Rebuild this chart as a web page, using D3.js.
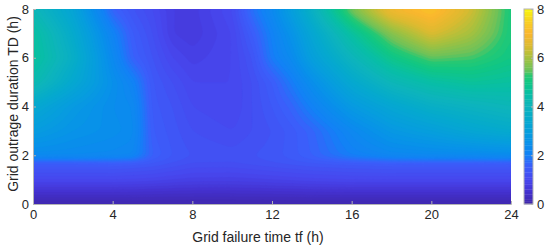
<!DOCTYPE html>
<html>
<head>
<meta charset="utf-8">
<script src="https://cdn.jsdelivr.net/npm/d3@7"></script>
<style>
  body { margin: 0; background: #fff; }
  text { font-family: "Liberation Sans", Arial, sans-serif; fill: #262626; }
</style>
</head>
<body>
<svg id="chart" width="550" height="248"></svg>
<script>
// grid failure time tf (h), columns of the read grid
var tfValues = [0, 2, 4, 5, 6, 7, 8, 10, 11, 12, 13, 14, 16, 18, 20, 22, 24];
// grid outage duration TD (h), rows of the read grid
var tdValues = [0, 0.5, 1, 1.7, 1.95, 3, 4, 5, 6, 7, 8];

// values, one row per TD value
var zTD0    = [0.05,0.05,0.05,0.05,0.05,0.05,0.05,0.05,0.05,0.05,0.05,0.05,0.05,0.05,0.05,0.05,0.05];
var zTD0_5  = [0.5, 0.5, 0.5, 0.5, 0.48,0.46,0.45,0.45,0.46,0.47,0.48,0.5, 0.5, 0.5, 0.5, 0.5, 0.5];
var zTD1    = [1.0, 1.0, 1.0, 0.98,0.95,0.9, 0.86,0.85,0.87,0.9, 0.93,0.96,1.0, 1.0, 1.0, 1.0, 1.0];
var zTD1_7  = [1.5, 1.5, 1.5, 1.45,1.4, 1.3, 1.2, 1.2, 1.25,1.3, 1.35,1.4, 1.45,1.5, 1.5, 1.5, 1.5];
var zTD1_95 = [2.3, 2.3, 2.25,2.2, 1.6, 1.4, 1.3, 1.25,1.3, 1.35,1.45,1.6, 2.0, 2.2, 2.25,2.25,2.3];
var zTD3    = [2.9, 2.6, 2.45,2.35,1.5, 1.35,1.2, 1.1, 1.2, 1.3, 1.45,1.65,2.25,2.75,3.0, 3.3, 3.5];
var zTD4    = [3.4, 2.8, 2.4, 2.3, 1.45,1.3, 1.1, 1.0, 1.2, 1.4, 1.65,2.05,2.8, 3.3, 3.7, 3.9, 4.1];
var zTD5    = [4.3, 3.4, 2.5, 2.1, 1.4, 1.2, 1.0, 1.0, 1.2, 1.5, 1.95,2.45,3.4, 4.1, 4.5, 4.7, 4.6];
var zTD6    = [4.7, 3.7, 2.3, 1.6, 1.3, 1.0, 0.85,1.0, 1.3, 1.95,2.35,3.0, 4.0, 4.9, 5.45,5.35,5.0];
var zTD7    = [4.6, 3.5, 2.1, 1.5, 1.2, 0.8, 0.72,1.0, 1.5, 2.05,2.6, 3.3, 4.6, 5.7, 6.5, 6.0, 5.1];
var zTD8    = [4.1, 3.2, 1.6, 1.3, 1.1, 0.8, 0.75,1.1, 1.8, 2.3, 3.0, 3.8, 5.6, 6.9, 7.3, 6.4, 5.1];
var zRows = [zTD0, zTD0_5, zTD1, zTD1_7, zTD1_95, zTD3, zTD4, zTD5, zTD6, zTD7, zTD8];

var xTicks = [0, 4, 8, 12, 16, 20, 24];
var yTicks = [0, 2, 4, 6, 8];
var cbTicks = [0, 2, 4, 6, 8];

// parula-like colour map as seen on the colour bar
var cmapValues = [0, 0.5, 1, 1.6, 2, 2.5, 3, 3.5, 4, 4.5, 5, 5.25, 5.5, 6, 6.5, 7, 7.5, 8];
var cmapColors = ["#3e26a8","#4431cf","#4747ee","#3a60fb","#1380f6","#0890ea","#069fdb","#05aacc",
                  "#0db4bc","#08bea6","#10c784","#25c874","#6cc25a","#a6c13e","#dcba30","#fab72e","#f8cf22","#f8f60e"];

var svg = d3.select('#chart');
var x0 = 33, x1 = 511, y0 = 9, y1 = 204;

var x = d3.scaleLinear().domain([0, 24]).range([x0, x1]);
var y = d3.scaleLinear().domain([0, 8]).range([y1, y0]);
var color = d3.scaleLinear().domain(cmapValues).range(cmapColors).clamp(true);

// bilinear lookup in the read grid (rendering only)
function lookup(tf, td) {
	var i = d3.bisectRight(tfValues, tf) - 1;
	i = Math.max(0, Math.min(tfValues.length - 2, i));
	var j = d3.bisectRight(tdValues, td) - 1;
	j = Math.max(0, Math.min(tdValues.length - 2, j));
	var u = (tf - tfValues[i]) / (tfValues[i+1] - tfValues[i]);
	var v = (td - tdValues[j]) / (tdValues[j+1] - tdValues[j]);
	var a = zRows[j][i], b = zRows[j][i+1], c = zRows[j+1][i], d = zRows[j+1][i+1];
	return (a*(1-u) + b*u)*(1-v) + (c*(1-u) + d*u)*v;
}

var nx = 239, ny = 98;
var grid = new Float64Array(nx * ny);
for (var r = 0; r < ny; r++) {
	var td = 8 - 8 * (r + 0.5) / ny;
	for (var c = 0; c < nx; c++) {
		grid[r*nx + c] = lookup(24 * (c + 0.5) / nx, td);
	}
}
d3.blur2({data: grid, width: nx, height: ny}, 1);

var step = 0.1;
var thresholds = d3.range(0, 8 + 1e-9, step);
var contours = d3.contours().size([nx, ny]).thresholds(thresholds)(grid);

var proj = d3.geoTransform({
	point: function(px, py) {
		this.stream.point(x0 + px * (x1 - x0) / nx, y0 + py * (y1 - y0) / ny);
	}
});
var path = d3.geoPath(proj);

svg.append('clipPath').attr('id', 'plotClip')
	.append('rect').attr('x', x0).attr('y', y0).attr('width', x1 - x0).attr('height', y1 - y0);

svg.append('g').attr('clip-path', 'url(#plotClip)')
	.selectAll('path').data(contours).enter().append('path')
	.attr('d', path)
	.attr('fill', function(d){ return color(d.value + step/2); })
	.attr('stroke', function(d){ return color(d.value + step/2); })
	.attr('stroke-width', 0.4);

// axes
var xAxis = svg.append('g').attr('transform', 'translate(0,' + y1 + ')')
	.call(d3.axisBottom(x).tickValues(xTicks).tickSize(-3).tickPadding(6));
var yAxis = svg.append('g').attr('transform', 'translate(' + x0 + ',0)')
	.call(d3.axisLeft(y).tickValues(yTicks).tickSize(-3).tickPadding(4));
[xAxis, yAxis].forEach(function(a){
	a.select('.domain').attr('stroke', '#b4b4b4');
	a.selectAll('.tick line').attr('stroke', '#b4b4b4');
	a.selectAll('.tick text').style('font-size', '13px').attr('fill', '#262626');
});

svg.append('text').attr('x', 258).attr('y', 242)
	.attr('text-anchor', 'middle').style('font-size', '14px')
	.text('Grid failure time tf (h)');
svg.append('text').attr('transform', 'translate(18,104) rotate(-90)')
	.attr('text-anchor', 'middle').style('font-size', '14px')
	.text('Grid outrage duration TD (h)');

// colour bar
var cbX = 524, cbW = 9;
var cbLevels = d3.range(0, 8, step);
svg.append('g').selectAll('rect').data(cbLevels).enter().append('rect')
	.attr('x', cbX).attr('width', cbW)
	.attr('y', function(d){ return y(d + step); })
	.attr('height', function(d){ return y(d) - y(d + step) + 0.3; })
	.attr('fill', function(d){ return color(d + step/2); });
svg.append('rect').attr('x', cbX).attr('y', y0).attr('width', cbW).attr('height', y1 - y0)
	.attr('fill', 'none').attr('stroke', '#b4b4b4');
var cbAxis = svg.append('g').attr('transform', 'translate(' + (cbX + cbW) + ',0)')
	.call(d3.axisRight(y).tickValues(cbTicks).tickSize(-2).tickPadding(4));
cbAxis.select('.domain').remove();
cbAxis.selectAll('.tick line').attr('stroke', '#b4b4b4');
cbAxis.selectAll('.tick text').style('font-size', '13px').attr('fill', '#262626');
</script>
</body>
</html>
